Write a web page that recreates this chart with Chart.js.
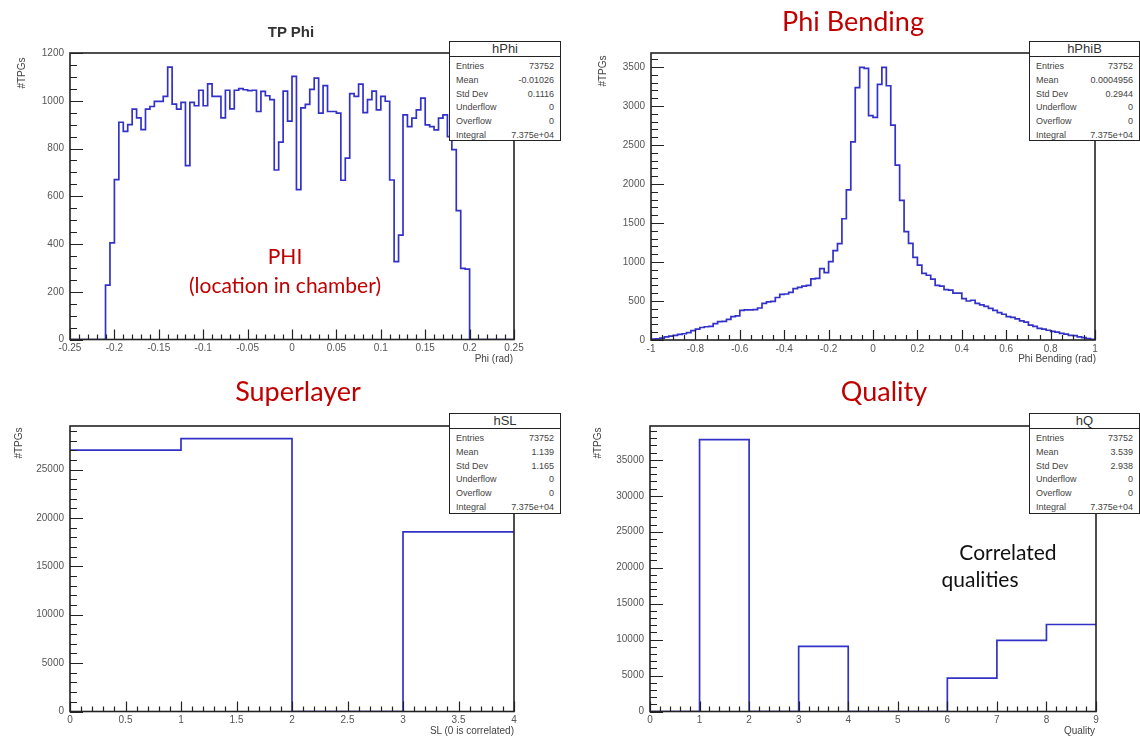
<!DOCTYPE html>
<html>
<head>
<meta charset="utf-8">
<script src="https://cdn.jsdelivr.net/npm/chart.js@4.4.1/dist/chart.umd.min.js"></script>
<style>
  html, body { margin: 0; padding: 0; background: #fff; }
  #page { position: relative; width: 1140px; height: 740px; overflow: hidden; font-family: "Liberation Sans", Arial, sans-serif; }
  .pane { position: absolute; width: 570px; height: 370px; }
  .txt { position: absolute; white-space: nowrap; line-height: 1; }
  .big { font-family: Lato, "Open Sans", sans-serif; color: #c00000; transform: translateX(-50%); }
  .axt { font-size: 10px; color: #444; transform: translate(-100%, -50%); }
  .ytl { font-size: 10px; color: #444; transform: translate(-50%, -50%) rotate(-90deg); }
  .stats { position: absolute; background: #fff; border: 1.5px solid #222; box-sizing: border-box; color: #444; }
  .stats .hd { height: 14px; border-bottom: 1.2px solid #222; text-align: center; font-size: 13px; line-height: 14px; color: #333; }
  .stats .row { display: flex; justify-content: space-between; padding: 0 6px; font-size: 9px; height: 13.8px; line-height: 13.8px; }
</style>
</head>
<body>
<div id="page">
  <div class="pane" style="left:0;top:0"><canvas id="cPhi" width="570" height="370"></canvas></div>
  <div class="pane" style="left:570px;top:0"><canvas id="cBend" width="570" height="370"></canvas></div>
  <div class="pane" style="left:0;top:370px"><canvas id="cSL" width="570" height="370"></canvas></div>
  <div class="pane" style="left:570px;top:370px"><canvas id="cQ" width="570" height="370"></canvas></div>
</div>
<script>
// --- DONNEES ---
// TP Phi : 82 bins de 0.005 rad a partir de -0.21
const phiFirstEdge = -0.21;
const phiBinWidth = 0.005;
const phiCounts = [228, 405, 670, 910, 872, 900, 965, 928, 879, 965,
  976, 997, 997, 1018, 1141, 986, 965, 993, 728, 993,
  979, 1044, 979, 1071, 1018, 1018, 928, 1044, 966, 1044,
  1051, 1046, 1042, 1044, 955, 1039, 1021, 1005, 710, 827,
  1040, 915, 1102, 628, 970, 985, 1048, 1095, 948, 1063,
  955, 955, 948, 667, 760, 1030, 1018, 1070, 950, 1005,
  1040, 962, 1018, 998, 668, 326, 437, 941, 892, 927,
  962, 1011, 899, 892, 878, 927, 941, 850, 795, 540,
  298, 295];

// Phi Bending : 100 bins de 0.02 rad entre -1 et 1
const bendFirstEdge = -1;
const bendBinWidth = 0.02;
const bendCounts = [10, 15, 25, 40, 50, 60, 72, 80, 95, 120,
  140, 160, 170, 175, 210, 235, 240, 265, 300, 310,
  380, 385, 385, 390, 410, 470, 490, 495, 545, 585,
  590, 610, 660, 675, 690, 700, 785, 790, 915, 865,
  1005, 1145, 1235, 1555, 1925, 2540, 3235, 3495, 3482, 2876,
  2854, 3277, 3495, 3260, 2756, 2243, 1790, 1390, 1240, 1060,
  960, 855, 830, 780, 700, 690, 645, 640, 600, 600,
  530, 500, 510, 470, 450, 430, 405, 380, 350, 330,
  300, 290, 270, 245, 230, 190, 175, 150, 140, 125,
  110, 100, 85, 75, 60, 55, 40, 30, 18, 8];

// Superlayer : bins entiers 0..4
const slFirstEdge = 0;
const slCounts = [27000, 28200, 0, 18550];

// Quality : bins entiers 0..9
const qFirstEdge = 0;
const qCounts = [0, 37800, 0, 9050, 0, 0, 4650, 9900, 12100];

// Boites de stats ROOT
const statLabels = ['Entries', 'Mean', 'Std Dev', 'Underflow', 'Overflow', 'Integral'];
const phiStats = ['73752', '-0.01026', '0.1116', '0', '0', '7.375e+04'];
const bendStats = ['73752', '0.0004956', '0.2944', '0', '0', '7.375e+04'];
const slStats = ['73752', '1.139', '1.165', '0', '0', '7.375e+04'];
const qStats = ['73752', '3.539', '2.938', '0', '0', '7.375e+04'];

const BLUE = '#3232c8';

// points d'un histogramme (bord gauche de chaque bin)
function histPoints(firstEdge, width, counts, xMin, xMax) {
    const pts = [];
    if (firstEdge > xMin) pts.push({ x: xMin, y: 0 });
    counts.forEach((c, i) => pts.push({ x: firstEdge + i * width, y: c }));
    const lastEdge = firstEdge + counts.length * width;
    if (lastEdge < xMax - 1e-9) {
        pts.push({ x: lastEdge, y: 0 });
        pts.push({ x: xMax, y: 0 });
    } else {
        pts.push({ x: lastEdge, y: counts[counts.length - 1] });
    }
    return pts;
}

// cadre + graduations a l'interieur, facon ROOT
const rootAxes = {
    id: 'rootAxes',
    afterDraw(chart, args, o) {
        const { ctx, chartArea: a, scales: { x, y } } = chart;
        ctx.save();
        ctx.strokeStyle = '#222';
        ctx.lineWidth = 1.2;
        ctx.beginPath();
        const nx = Math.round((x.max - x.min) / o.xMinor);
        for (let i = 0; i <= nx; i++) {
            const v = x.min + i * o.xMinor;
            const r = v / o.xStep;
            const major = Math.abs(r - Math.round(r)) < 1e-6;
            const px = Math.round(x.getPixelForValue(v)) + 0.5;
            ctx.moveTo(px, a.bottom);
            ctx.lineTo(px, a.bottom - (major ? 10 : 5));
        }
        const ny = Math.floor((y.max - y.min) / o.yMinor + 1e-6);
        for (let i = 0; i <= ny; i++) {
            const v = y.min + i * o.yMinor;
            const major = (v % o.yStep) === 0;
            const py = Math.round(y.getPixelForValue(v)) + 0.5;
            ctx.moveTo(a.left, py);
            ctx.lineTo(a.left + (major ? 13 : 7), py);
        }
        ctx.stroke();
        ctx.lineWidth = 1.6;
        ctx.strokeRect(a.left, a.top, a.right - a.left, a.bottom - a.top);
        ctx.restore();
    }
};

function makeHist(id, points, o) {
    const tickFont = { family: 'Liberation Sans', size: 10 };
    return new Chart(document.getElementById(id), {
        type: 'line',
        data: {
            datasets: [{
                data: points,
                stepped: true,
                borderColor: BLUE,
                borderWidth: 1.7,
                pointRadius: 0,
                fill: false
            }]
        },
        options: {
            responsive: false,
            animation: false,
            devicePixelRatio: 1,
            layout: { padding: { top: o.top, right: 570 - o.right, left: 0, bottom: 0 } },
            plugins: { legend: { display: false }, tooltip: { enabled: false }, rootAxes: o },
            scales: {
                x: {
                    type: 'linear', min: o.xMin, max: o.xMax,
                    grid: { display: false, drawTicks: false }, border: { display: false },
                    ticks: {
                        stepSize: o.xStep, autoSkip: false, maxRotation: 0, padding: 3,
                        font: tickFont, color: '#555',
                        callback: v => String(Math.round(v * 1000) / 1000)
                    },
                    afterFit: s => { s.height = 370 - o.bottom; }
                },
                y: {
                    type: 'linear', min: 0, max: o.yMax,
                    grid: { display: false, drawTicks: false }, border: { display: false },
                    ticks: {
                        autoSkip: false, padding: 6, font: tickFont, color: '#555',
                        callback: v => String(Math.round(v))
                    },
                    // graduations principales : multiples du pas jusqu'au max
                    afterBuildTicks: s => {
                        const t = [];
                        for (let v = 0; v <= o.yMax + 1e-6; v += o.yStep) t.push({ value: v });
                        s.ticks = t;
                    },
                    afterFit: s => { s.width = o.left; }
                }
            }
        },
        plugins: [rootAxes]
    });
}

makeHist('cPhi', histPoints(phiFirstEdge, phiBinWidth, phiCounts, -0.25, 0.25), {
    left: 70, right: 514, top: 53, bottom: 339.5,
    xMin: -0.25, xMax: 0.25, xStep: 0.05, xMinor: 0.01,
    yMax: 1200, yStep: 200, yMinor: 50
});
makeHist('cBend', histPoints(bendFirstEdge, bendBinWidth, bendCounts, -1, 1), {
    left: 81, right: 525, top: 53, bottom: 340,
    xMin: -1, xMax: 1, xStep: 0.2, xMinor: 0.05,
    yMax: 3680, yStep: 500, yMinor: 100
});
makeHist('cSL', histPoints(slFirstEdge, 1, slCounts, 0, 4), {
    left: 70, right: 514, top: 56, bottom: 341.5,
    xMin: 0, xMax: 4, xStep: 0.5, xMinor: 0.1,
    yMax: 29500, yStep: 5000, yMinor: 1000
});
makeHist('cQ', histPoints(qFirstEdge, 1, qCounts, 0, 9), {
    left: 80, right: 526, top: 56, bottom: 341.5,
    xMin: 0, xMax: 9, xStep: 1, xMinor: 0.2,
    yMax: 39700, yStep: 5000, yMinor: 1000
});

// --- TEXTES ---
const page = document.getElementById('page');
function addText(cls, html, left, top, style) {
    const d = document.createElement('div');
    d.className = 'txt ' + cls;
    d.innerHTML = html;
    d.style.left = left + 'px';
    d.style.top = top + 'px';
    if (style) d.style.cssText += style;
    page.appendChild(d);
}

addText('', 'TP Phi', 291, 24, 'font-weight:bold;font-size:15px;color:#333;transform:translateX(-50%)');
addText('big', 'Phi Bending', 853, 7, 'font-size:27px');
addText('big', 'Superlayer', 298, 377, 'font-size:27px');
addText('big', 'Quality', 884, 377, 'font-size:27px');
addText('big', 'PHI', 285, 245, 'font-size:21px');
addText('big', '(location in chamber)', 285, 274, 'font-size:21px');
addText('big', 'Correlated', 1008, 541, 'font-size:21px;color:#111');
addText('big', 'qualities', 980, 568, 'font-size:21px;color:#111');

addText('axt', 'Phi (rad)', 513, 359);
addText('axt', 'Phi Bending (rad)', 1096, 359);
addText('axt', 'SL (0 is correlated)', 514, 731);
addText('axt', 'Quality', 1095, 731);
addText('ytl', '#TPGs', 22, 73);
addText('ytl', '#TPGs', 603, 71);
addText('ytl', '#TPGs', 19, 443);
addText('ytl', '#TPGs', 598, 443);

function statsBox(left, top, w, h, name, values) {
    const b = document.createElement('div');
    b.className = 'stats';
    b.style.cssText = `left:${left}px;top:${top}px;width:${w}px;height:${h}px`;
    let html = `<div class="hd">${name}</div><div style="height:3px"></div>`;
    statLabels.forEach((l, i) => {
        html += `<div class="row"><span>${l}</span><span>${values[i]}</span></div>`;
    });
    b.innerHTML = html;
    page.appendChild(b);
}
statsBox(449, 41, 112, 100, 'hPhi', phiStats);
statsBox(1029, 41, 111, 100, 'hPhiB', bendStats);
statsBox(449, 413, 112, 101, 'hSL', slStats);
statsBox(1029, 413, 111, 101, 'hQ', qStats);
</script>
</body>
</html>
